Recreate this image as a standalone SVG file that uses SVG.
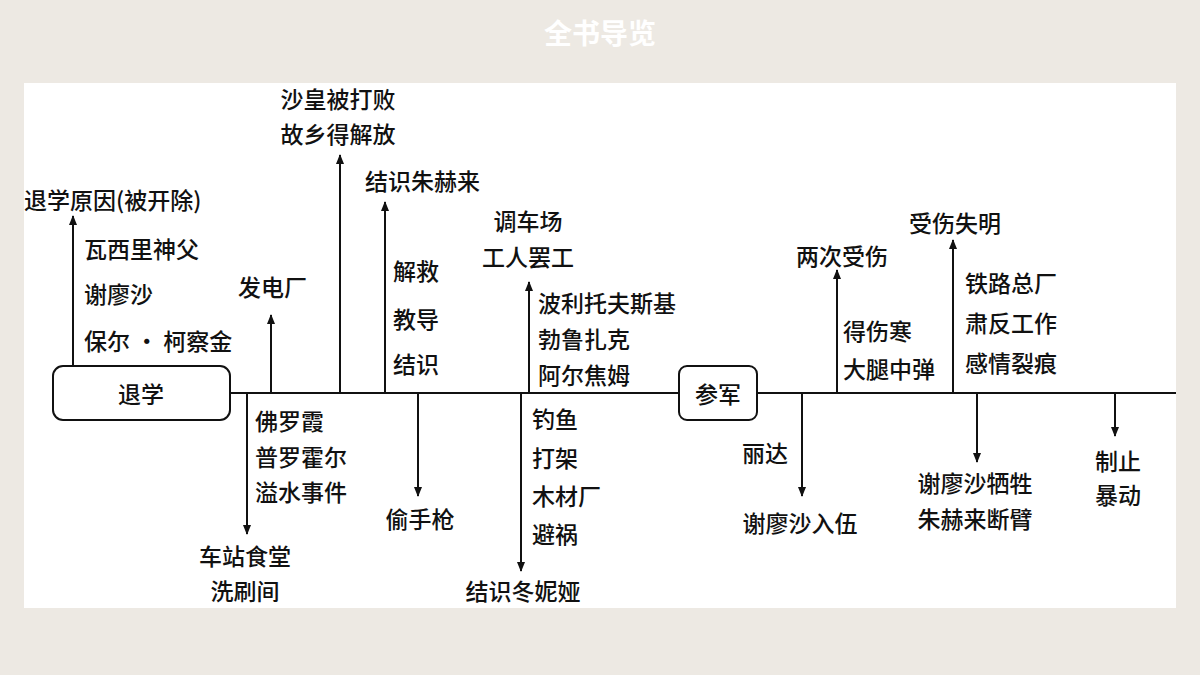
<svg xmlns="http://www.w3.org/2000/svg" width="1200" height="675" viewBox="0 0 1200 675">
<defs>
<marker id="ah" viewBox="0 0 10 10" refX="9" refY="5" markerWidth="10" markerHeight="10" markerUnits="userSpaceOnUse" orient="auto"><path d="M0,1 L10,5 L0,9 Z" fill="#111"/></marker>
<style>
text{font-family:"Noto Sans CJK SC","Liberation Sans",sans-serif;font-size:23px;font-weight:500;fill:#111;dominant-baseline:central}
.c{text-anchor:middle}
.ln{stroke:#111;stroke-width:2;fill:none}
.ar{stroke:#111;stroke-width:2;fill:none;marker-end:url(#ah)}
.bx{fill:#fff;stroke:#111;stroke-width:2}
</style>
</defs>
<rect width="1200" height="675" fill="#ede9e3"/>
<rect x="24" y="83" width="1152" height="525" fill="#fff"/>
<text x="600" y="32" class="c" style="fill:#fff;font-weight:bold;font-size:28px">全书导览</text>
<g id="connectors">
<line class="ln" x1="230" y1="393" x2="1176" y2="393"/>
<line class="ar" x1="73" y1="366" x2="73" y2="216"/>
<line class="ar" x1="271" y1="393" x2="271" y2="315"/>
<line class="ar" x1="247" y1="393" x2="247" y2="534"/>
<line class="ar" x1="340" y1="393" x2="340" y2="155"/>
<line class="ar" x1="385" y1="393" x2="385" y2="202"/>
<line class="ar" x1="418" y1="393" x2="418" y2="496"/>
<line class="ar" x1="529" y1="393" x2="529" y2="282"/>
<line class="ar" x1="521" y1="393" x2="521" y2="571"/>
<line class="ar" x1="802" y1="393" x2="802" y2="496"/>
<line class="ar" x1="837" y1="393" x2="837" y2="270"/>
<line class="ar" x1="953" y1="393" x2="953" y2="240"/>
<line class="ar" x1="977" y1="393" x2="977" y2="462"/>
<line class="ar" x1="1115" y1="393" x2="1115" y2="436"/>
</g>
<g id="n-tuixue"><rect class="bx" x="53" y="366" width="177" height="54" rx="10"/><text x="141" y="393" class="c">退学</text></g>
<g id="n-canjun"><rect class="bx" x="679" y="366" width="78" height="54" rx="8"/><text x="718" y="393" class="c">参军</text></g>
<g id="n1"><text x="24" y="199">退学原因(被开除)</text><text x="84" y="248">瓦西里神父</text><text x="84" y="293">谢廖沙</text><text x="84" y="340">保尔 · 柯察金</text></g>
<g id="n2"><text x="238" y="286">发电厂</text></g>
<g id="n3"><text x="255" y="420">佛罗霞</text><text x="255" y="456">普罗霍尔</text><text x="255" y="491">溢水事件</text><text x="245" y="555" class="c">车站食堂</text><text x="245" y="590" class="c">洗刷间</text></g>
<g id="n4"><text x="338" y="98" class="c">沙皇被打败</text><text x="338" y="133" class="c">故乡得解放</text></g>
<g id="n5"><text x="365" y="180">结识朱赫来</text><text x="393" y="270">解救</text><text x="393" y="318">教导</text><text x="393" y="363">结识</text></g>
<g id="n6"><text x="420" y="518" class="c">偷手枪</text></g>
<g id="n7"><text x="528" y="220" class="c">调车场</text><text x="528" y="256" class="c">工人罢工</text><text x="538" y="302">波利托夫斯基</text><text x="538" y="338">勃鲁扎克</text><text x="538" y="374">阿尔焦姆</text></g>
<g id="n8"><text x="532" y="418">钓鱼</text><text x="532" y="457">打架</text><text x="532" y="495">木材厂</text><text x="532" y="533">避祸</text><text x="523" y="590" class="c">结识冬妮娅</text></g>
<g id="n9"><text x="742" y="452">丽达</text><text x="800" y="522" class="c">谢廖沙入伍</text></g>
<g id="n10"><text x="842" y="255" class="c">两次受伤</text><text x="843" y="330">得伤寒</text><text x="843" y="368">大腿中弹</text></g>
<g id="n11"><text x="955" y="222" class="c">受伤失明</text><text x="965" y="282">铁路总厂</text><text x="965" y="322">肃反工作</text><text x="965" y="362">感情裂痕</text></g>
<g id="n12"><text x="975" y="482" class="c">谢廖沙牺牲</text><text x="975" y="518" class="c">朱赫来断臂</text></g>
<g id="n13"><text x="1118" y="460" class="c">制止</text><text x="1118" y="494" class="c">暴动</text></g>
</svg>
